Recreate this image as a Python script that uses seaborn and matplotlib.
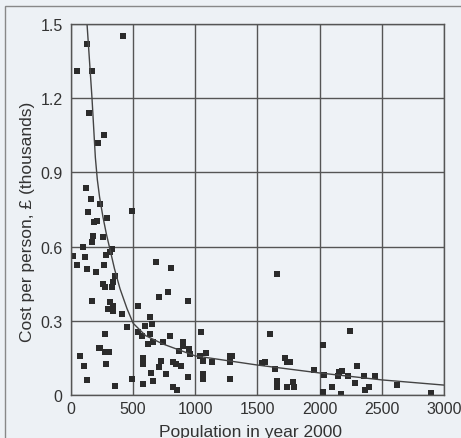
import numpy as np
import pandas as pd
import seaborn as sns
import matplotlib.pyplot as plt
from matplotlib.patches import Rectangle

# population (x) and cost per person in thousands of pounds (y)
pop = [418, 129, 169, 48, 145, 265, 217, 121, 161, 233, 137, 490, 209, 289, 177, 169,
       257, 330, 281, 113, 129, 201, 265, 354, 338, 273, 330, 169, 313, 338, 297,
       338, 410, 539, 450, 273, 20, 50, 225, 233, 305, 273, 281, 72, 105, 129,
       354, 490, 683, 804, 708, 780, 941, 635, 651, 595, 539, 571, 635, 659, 619,
       740, 796, 900, 900, 868, 949, 957, 1045, 1037, 1085, 1061, 1134, 1278, 1278, 579,
       579, 724, 708, 820, 844, 884, 643, 764, 941, 1061, 1061, 1278, 579, 659, 820,
       852, 1600, 1560, 1536, 1721, 1737, 1640, 1656, 1656, 1737, 1656, 2243, 2026, 1761, 1954,
       2034, 2155, 2179, 2147, 2227, 2299, 2283, 2356, 2444, 2396, 2364, 2098, 2026, 2171, 2621,
       2894, 1785, 1793, 1294, 313, 257, 185, 97]
cost = [1.45, 1.42, 1.31, 1.31, 1.14, 1.05, 1.02, 0.837, 0.792, 0.772, 0.74, 0.744, 0.703, 0.715, 0.642, 0.618,
        0.638, 0.59, 0.566, 0.558, 0.509, 0.497, 0.525, 0.481, 0.457, 0.436, 0.436, 0.38, 0.376, 0.36, 0.348,
        0.34, 0.327, 0.36, 0.275, 0.246, 0.56, 0.525, 0.19, 0.19, 0.174, 0.174, 0.125, 0.158, 0.117, 0.061,
        0.036, 0.063, 0.538, 0.513, 0.396, 0.416, 0.38, 0.315, 0.287, 0.279, 0.255, 0.238, 0.246, 0.214, 0.206,
        0.214, 0.238, 0.214, 0.198, 0.178, 0.186, 0.166, 0.255, 0.158, 0.17, 0.137, 0.133, 0.158, 0.133, 0.15,
        0.125, 0.137, 0.113, 0.133, 0.125, 0.117, 0.089, 0.085, 0.073, 0.085, 0.065, 0.065, 0.044, 0.057, 0.032,
        0.02, 0.246, 0.133, 0.129, 0.15, 0.133, 0.105, 0.057, 0.032, 0.032, 0.489, 0.259, 0.202, 0.133, 0.101,
        0.081, 0.093, 0.097, 0.077, 0.077, 0.117, 0.048, 0.077, 0.077, 0.032, 0.02, 0.032, 0.012, 0.005, 0.04,
        0.008, 0.053, 0.032, 0.158, 0.58, 0.45, 0.7, 0.6]

# fitted curve
curve_pop = [129, 169, 196, 212, 230, 257, 285, 313, 350, 394, 450, 500, 600, 740, 1000,
             1500, 2000, 2500, 3000]
curve_cost = [1.5, 1.2, 0.96, 0.87, 0.8, 0.72, 0.65, 0.59, 0.51, 0.43, 0.35, 0.29, 0.24, 0.206, 0.158,
              0.121, 0.089, 0.061, 0.040]

pts = pd.DataFrame({'pop': pop, 'cost': cost})
fit = pd.DataFrame({'pop': curve_pop, 'cost': curve_cost})

sns.set_style('white')
plt.rcParams['font.family'] = ['Liberation Sans', 'DejaVu Sans']

bg = '#edf1f5'
ink = '#2b2b2b'
fig = plt.figure(figsize=(4.61, 4.39), dpi=100, facecolor=bg)
ax = fig.add_axes([0.154, 0.098, 0.809, 0.845], facecolor='#eef2f6')

sns.lineplot(data=fit, x='pop', y='cost', ax=ax, color='#444444', lw=1.0,
             estimator=None, sort=True)
sns.scatterplot(data=pts, x='pop', y='cost', ax=ax, marker='s', s=14,
                color=ink, linewidth=0)

ax.set_xlim(0, 3000)
ax.set_ylim(0, 1.5)
ax.set_xticks(np.arange(0, 3001, 500))
ax.set_yticks([0, 0.3, 0.6, 0.9, 1.2, 1.5])
ax.set_yticklabels(['0', '0.3', '0.6', '0.9', '1.2', '1.5'])
ax.grid(True, color='#555555', lw=1.0)
for s in ax.spines.values():
    s.set_visible(True)
    s.set_color('#555555')
    s.set_linewidth(1.0)
ax.tick_params(length=0, labelsize=11.5, colors='#333333')
ax.tick_params(axis='x', pad=4)
ax.tick_params(axis='y', pad=6)
ax.set_xlabel('Population in year 2000', fontsize=12.5, color='#333333')
ax.set_ylabel('Cost per person, £ (thousands)', fontsize=12.5, color='#333333')
ax.xaxis.set_label_coords(0.48, -0.078)
ax.yaxis.set_label_coords(-0.097, 0.47)

# scanned page frame
fig.patches.append(Rectangle((0.011, -0.01), 1.0, 0.993, transform=fig.transFigure,
                             fill=False, edgecolor='#888888', lw=1.0))

fig.savefig('out.png', dpi=100, facecolor=bg)
